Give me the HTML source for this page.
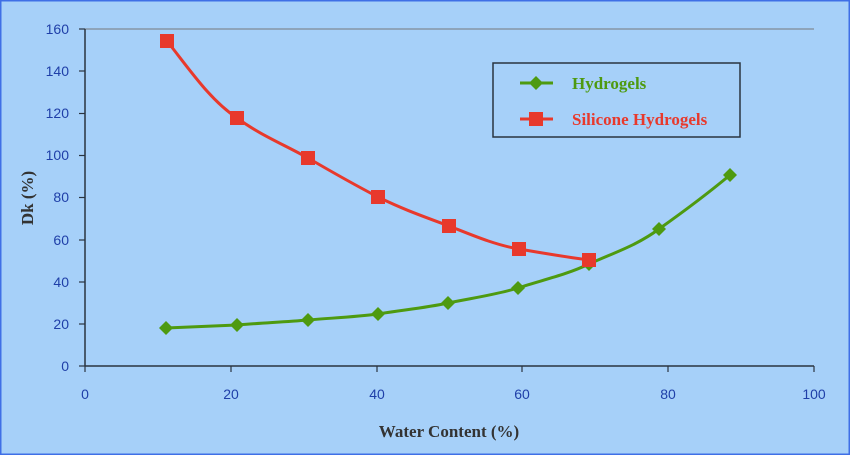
<!DOCTYPE html>
<html><head><style>
body{margin:0;}
svg{display:block;}
</style></head><body>
<svg width="850" height="455" xmlns="http://www.w3.org/2000/svg" font-family="Liberation Sans, sans-serif">
<rect x="0" y="0" width="850" height="455" fill="#a6d0f9"/>
<rect x="0.5" y="0.5" width="849" height="454" fill="none" stroke="#3f6fe6" stroke-width="2"/>
<line x1="85" y1="29" x2="814" y2="29" stroke="#7f8a94" stroke-width="1.2"/>
<line x1="85" y1="29" x2="85" y2="366" stroke="#2a3440" stroke-width="1.5"/>
<line x1="85" y1="366" x2="814" y2="366" stroke="#2a3440" stroke-width="1.5"/>
<g stroke="#2a3440" stroke-width="1.2">
<line x1="79" y1="29" x2="85" y2="29"/><line x1="79" y1="71" x2="85" y2="71"/><line x1="79" y1="113.5" x2="85" y2="113.5"/><line x1="79" y1="155.5" x2="85" y2="155.5"/><line x1="79" y1="197.5" x2="85" y2="197.5"/><line x1="79" y1="240" x2="85" y2="240"/><line x1="79" y1="282" x2="85" y2="282"/><line x1="79" y1="324" x2="85" y2="324"/><line x1="79" y1="366" x2="85" y2="366"/>
<line x1="85" y1="366" x2="85" y2="372"/><line x1="231" y1="366" x2="231" y2="372"/><line x1="377" y1="366" x2="377" y2="372"/><line x1="522" y1="366" x2="522" y2="372"/><line x1="668" y1="366" x2="668" y2="372"/><line x1="814" y1="366" x2="814" y2="372"/>
</g>
<g fill="#1f3fa8" font-size="14" text-anchor="end">
<text x="69" y="34">160</text><text x="69" y="76">140</text><text x="69" y="118">120</text><text x="69" y="160">100</text><text x="69" y="202">80</text><text x="69" y="245">60</text><text x="69" y="287">40</text><text x="69" y="329">20</text><text x="69" y="371">0</text>
</g>
<g fill="#1f3fa8" font-size="14" text-anchor="middle">
<text x="85" y="399">0</text><text x="231" y="399">20</text><text x="377" y="399">40</text><text x="522" y="399">60</text><text x="668" y="399">80</text><text x="814" y="399">100</text>
</g>
<text x="449" y="437" font-family="Liberation Serif, serif" font-weight="bold" font-size="17" fill="#333" text-anchor="middle">Water Content (%)</text>
<text transform="translate(33,198) rotate(-90)" font-family="Liberation Serif, serif" font-weight="bold" font-size="17" fill="#333" text-anchor="middle">Dk (%)</text>
<path d="M166,328 C190,327 214,326 237,325 C261,323 284,322 308,320 C331,318 355,317 378,314 C402,310 425,308 448,303 C472,298 495,295 518,288 C542,280 566,275 589,264 C613,253 636,246 659,229 C683,212 706,195 730,175" fill="none" stroke="#4e9a10" stroke-width="3"/>
<g fill="#4e9a10">
<path d="M166,321l7,7l-7,7l-7,-7z"/><path d="M237,318l7,7l-7,7l-7,-7z"/><path d="M308,313l7,7l-7,7l-7,-7z"/><path d="M378,307l7,7l-7,7l-7,-7z"/><path d="M448,296l7,7l-7,7l-7,-7z"/><path d="M518,281l7,7l-7,7l-7,-7z"/><path d="M589,257l7,7l-7,7l-7,-7z"/><path d="M659,222l7,7l-7,7l-7,-7z"/><path d="M730,168l7,7l-7,7l-7,-7z"/>
</g>
<path d="M167,41 C190,70 210,100 237,118 C260,135 285,145 308,158 C332,172 355,185 378,197 C402,209 425,217 449,226 C472,235 495,245 519,249 C542,253 566,257 589,260" fill="none" stroke="#e8392c" stroke-width="3"/>
<g fill="#e8392c">
<rect x="160" y="34" width="14" height="14"/><rect x="230" y="111" width="14" height="14"/><rect x="301" y="151" width="14" height="14"/><rect x="371" y="190" width="14" height="14"/><rect x="442" y="219" width="14" height="14"/><rect x="512" y="242" width="14" height="14"/><rect x="582" y="253" width="14" height="14"/>
</g>
<rect x="493" y="63" width="247" height="74" fill="none" stroke="#2a3440" stroke-width="1.5"/>
<line x1="520" y1="83" x2="553" y2="83" stroke="#4e9a10" stroke-width="3"/>
<path d="M536,76l7,7l-7,7l-7,-7z" fill="#4e9a10"/>
<text x="572" y="89" font-family="Liberation Serif, serif" font-weight="bold" font-size="17" fill="#4e9a10">Hydrogels</text>
<line x1="520" y1="119" x2="553" y2="119" stroke="#e8392c" stroke-width="3"/>
<rect x="529" y="112" width="14" height="14" fill="#e8392c"/>
<text x="572" y="125" font-family="Liberation Serif, serif" font-weight="bold" font-size="17" fill="#e8392c">Silicone Hydrogels</text>
</svg>
</body></html>
